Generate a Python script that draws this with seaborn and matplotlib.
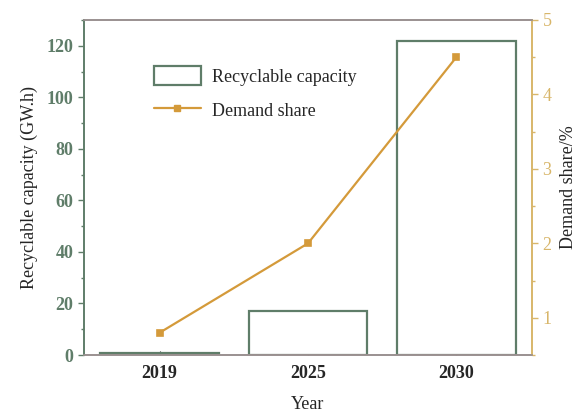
import numpy as np
import pandas as pd
import matplotlib
matplotlib.use("Agg")
import matplotlib.pyplot as plt
import seaborn as sns
from matplotlib.patches import Patch
from matplotlib.lines import Line2D
from matplotlib.ticker import MultipleLocator

years = ["2019", "2025", "2030"]
capacity = [0.8, 17, 122]        # GW.h
share = [0.8, 2.0, 4.5]          # %

green = "#5f7d69"
gold = "#d49a3a"
gold_light = "#d8b66a"

sns.set_style("white")
plt.rcParams["font.family"] = ["Liberation Serif", "DejaVu Serif"]

df = pd.DataFrame({"year": years, "capacity": capacity, "share": share})

fig = plt.figure(figsize=(5.85, 4.13), dpi=100)
ax = fig.add_axes([0.1436, 0.1404, 0.7658, 0.8112])

sns.barplot(data=df, x="year", y="capacity", ax=ax, width=0.8,
            facecolor="white", edgecolor=green, linewidth=1.6)
ax.set_ylim(0, 130)
ax.set_xlim(-0.51, 2.51)
ax.yaxis.set_major_locator(MultipleLocator(20))
ax.yaxis.set_minor_locator(MultipleLocator(10))
ax.tick_params(axis="y", which="both", direction="out", left=True, color=green,
               labelcolor=green, labelsize=13, width=1)
ax.tick_params(axis="y", which="major", length=4)
ax.tick_params(axis="y", which="minor", length=2)
ax.tick_params(axis="x", direction="in", bottom=True, length=3, labelsize=13, pad=7)
for t in ax.get_yticklabels():
    t.set_fontweight("bold")
for t in ax.get_xticklabels():
    t.set_fontweight("bold")
ax.set_xlabel("Year", fontsize=13, labelpad=10)
ax.set_ylabel("Recyclable capacity (GW.h)", fontsize=13, labelpad=6)

ax2 = ax.twinx()
sns.pointplot(data=df, x="year", y="share", ax=ax2, color=gold, markers="s",
              markersize=5, linewidth=1.6)
ax2.set_xlim(-0.51, 2.51)
ax2.set_ylim(0.5, 5)
ax2.yaxis.set_major_locator(MultipleLocator(1))
ax2.yaxis.set_minor_locator(MultipleLocator(0.5))
ax2.tick_params(axis="y", which="both", direction="out", right=True, color=gold_light,
                labelcolor=gold_light, labelsize=13, width=1)
ax2.tick_params(axis="y", which="major", length=4)
ax2.tick_params(axis="y", which="minor", length=2)
ax2.set_ylabel("Demand share/%", fontsize=13, labelpad=6)
ax2.set_xlabel("")

for a in (ax, ax2):
    for s in a.spines.values():
        s.set_linewidth(1.2)
    a.spines["top"].set_color("#9a9090")
    a.spines["bottom"].set_color("#9a9090")
    a.spines["left"].set_color(green)
    a.spines["right"].set_color(gold_light)

handles = [Patch(facecolor="white", edgecolor=green, linewidth=1.6),
           Line2D([], [], color=gold, marker="s", markersize=5, linewidth=1.6)]
ax2.legend(handles, ["Recyclable capacity", "Demand share"], loc="upper left",
           bbox_to_anchor=(0.12, 0.91), frameon=False, fontsize=13,
           handlelength=2.6, handleheight=1.2, handletextpad=0.6, labelspacing=0.8)

fig.savefig("out.png", dpi=100)
